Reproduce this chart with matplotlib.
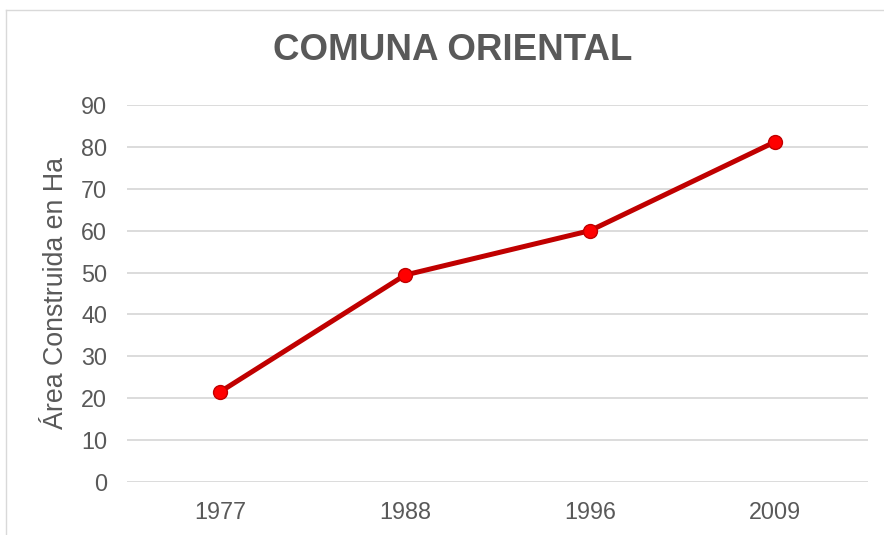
import matplotlib
matplotlib.use("Agg")
import matplotlib.pyplot as plt
from matplotlib.lines import Line2D

years = ["1977", "1988", "1996", "2009"]
area = [21.5, 49.4, 60.0, 81.2]
yticks = [0, 10, 20, 30, 40, 50, 60, 70, 80, 90]

plt.rcParams['font.family'] = ['Liberation Sans', 'DejaVu Sans']
W, H = 884, 535
fig = plt.figure(figsize=(W/100, H/100), dpi=100)
ax = fig.add_axes([127.5/W, 1-482/H, (867.5-127.5)/W, (482-105)/H])

x = list(range(len(years)))
ax.plot(x, area, color='#C00000', lw=3.6, marker='o', ms=10,
        mfc='#FF0000', mec='#C00000', mew=1, zorder=3, solid_capstyle='round')
ax.set_xlim(-0.5, len(years)-0.5)
ax.set_ylim(0, 90)
ax.set_yticks(yticks)
ax.set_xticks(x)
ax.set_xticklabels(years)
ax.grid(axis='y', color='#D9D9D9', lw=1.3)
ax.set_axisbelow(True)
for s in ax.spines.values():
    s.set_visible(False)
ax.tick_params(axis='both', length=0, labelsize=16.8, labelcolor='#595959')
ax.tick_params(axis='y', pad=14.5)
ax.tick_params(axis='x', pad=13.5)
fig.text(56/W, 1-293/H, 'Área Construida en Ha', rotation=90, ha='center', va='center',
         fontsize=19.3, color='#595959')
fig.text(453/W, 1-51/H, 'COMUNA ORIENTAL', ha='center', va='center',
         fontsize=26.5, fontweight='bold', color='#595959')

fig.add_artist(Line2D([5.5/W, 5.5/W], [0, 1-9.5/H], transform=fig.transFigure, color='#D9D9D9', lw=1))
fig.add_artist(Line2D([5.5/W, 1], [1-9.5/H, 1-9.5/H], transform=fig.transFigure, color='#D9D9D9', lw=1))

fig.savefig('out.png', dpi=100)
